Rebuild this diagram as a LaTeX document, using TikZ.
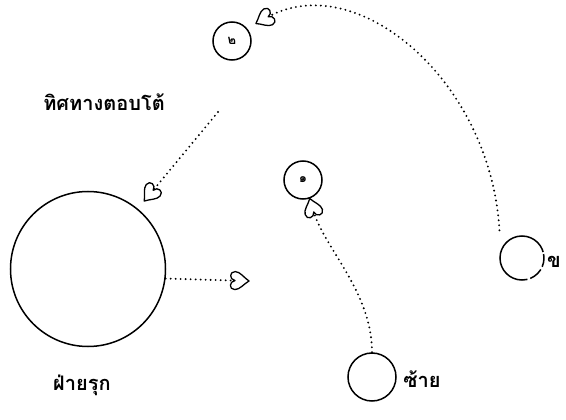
\documentclass[tikz,border=0pt]{standalone}
\usepackage{fontspec}
\newfontfamily\thaifont[Script=Thai]{Loma}
\usetikzlibrary{arrows.meta}

\pgfdeclarearrow{
  name=Heart,
  setup code={
    \pgfarrowssettipend{0pt}
    \pgfarrowssetlineend{-14pt}
    \pgfarrowssetbackend{-19pt}
    \pgfarrowssetvisualbackend{-14pt}
    \pgfarrowsupperhullpoint{0pt}{0pt}
    \pgfarrowsupperhullpoint{-19pt}{9pt}
  },
  drawing code={
    \pgfsetdash{}{0pt}
    \pgfsetlinewidth{1.3pt}
    \pgfsetroundjoin
    \pgfpathmoveto{\pgfpointorigin}
    \pgfpathcurveto{\pgfpoint{-5pt}{3pt}}{\pgfpoint{-9pt}{9pt}}{\pgfpoint{-14pt}{9pt}}
    \pgfpathcurveto{\pgfpoint{-20pt}{9pt}}{\pgfpoint{-20pt}{1pt}}{\pgfpoint{-14pt}{0pt}}
    \pgfpathcurveto{\pgfpoint{-20pt}{-1pt}}{\pgfpoint{-20pt}{-9pt}}{\pgfpoint{-14pt}{-9pt}}
    \pgfpathcurveto{\pgfpoint{-9pt}{-9pt}}{\pgfpoint{-5pt}{-3pt}}{\pgfpointorigin}
    \pgfpathclose
    \pgfusepathqstroke
  },
}

\begin{document}
\begin{tikzpicture}[x=1pt, y=-1pt, font=\thaifont\bfseries\fontsize{20}{24}\selectfont,
   ring/.style={circle, draw, line width=1.5pt, inner sep=0pt},
   reply/.style={line width=2.1pt, line cap=round, dash pattern=on 0pt off 5pt, -Heart}]
\useasboundingbox (0,0) rectangle (566,420);
\node[ring, minimum size=155pt] (attack) at (88,269) {};
\node[ring, minimum size=38pt] (p2) at (232,41) {\fontsize{13}{15}\selectfont ๒};
\node[ring, minimum size=38pt] (p1) at (303,180) {\fontsize{13}{15}\selectfont ๑};
\node[ring, minimum size=48pt] (left) at (372,377) {};
\node[ring, minimum size=44pt,
   dash pattern=on 4pt off 2pt on 103pt off 3pt on 14pt off 3pt on 20pt] (b) at (522,258) {};
\node (reply label) at (104,102) {ทิศทางตอบโต้};
\node (attack label) at (82,385) {ฝ่ายรุก};
\node (left label) at (422,379) {ซ้าย};
\node (b label) at (554,262) {ข};
\coordinate (c1) at (218,112);
\coordinate (h1) at (249,281);
\draw[reply] (attack.-7) -- (h1);
\draw[reply, shorten >=10pt] (c1) -- (attack);
\draw[reply] (left.north) .. controls +(0,-60) and +(15,50) .. (p1.-70);
\draw[reply, shorten <=20pt, shorten >=10pt] (b.160) .. controls +(-10,-170) and +(110,-60) .. (p2.40);
\end{tikzpicture}
\end{document}
